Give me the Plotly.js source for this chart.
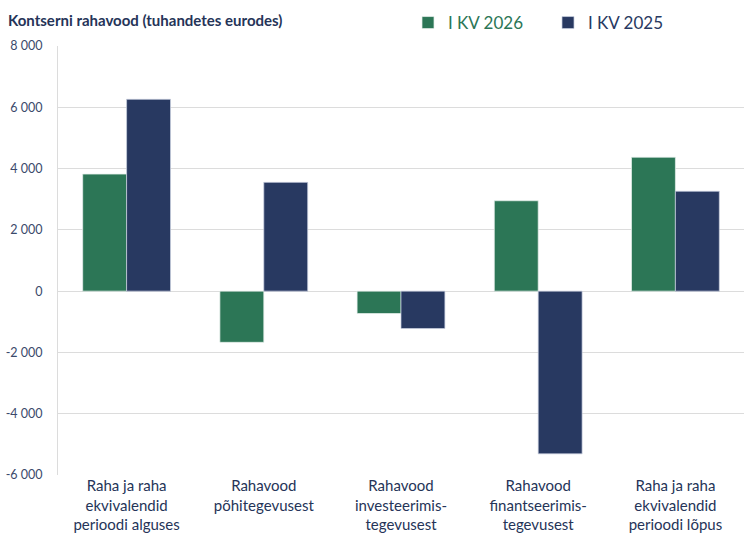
<!DOCTYPE html>
<html>
<head>
<meta charset="utf-8">
<script src="https://cdn.plot.ly/plotly-3.0.1.min.js"></script>
<style>html,body{margin:0;padding:0;background:#fff;}#chart{width:744px;height:533px;}</style>
</head>
<body>
<div id="chart"></div>
<script>
const categories = [
  "Raha ja raha<br>ekvivalendid<br>perioodi alguses",
  "Rahavood<br>põhitegevusest",
  "Rahavood<br>investeerimis-<br>tegevusest",
  "Rahavood<br>finantseerimis-<br>tegevusest",
  "Raha ja raha<br>ekvivalendid<br>perioodi lõpus"
];
const series2026 = [3820, -1670, -730, 2950, 4370];
const series2025 = [6260, 3550, -1220, -5310, 3260];
const yTickVals = [-6000, -4000, -2000, 0, 2000, 4000, 6000, 8000];
const yTickText = ["-6 000", "-4 000", "-2 000", "0", "2 000", "4 000", "6 000", "8 000"];

const green = "#2c7656";
const navy = "#283961";
const FONT = "Lato, 'Open Sans', sans-serif";

const traces = [
  {type: "bar", x: categories, y: series2026,
   name: '<span style="color:' + green + '">I KV 2026</span>',
   marker: {color: green, line: {color: "rgba(230,240,235,0.9)", width: 0.8}}},
  {type: "bar", x: categories, y: series2025,
   name: '<span style="color:' + navy + '">I KV 2025</span>',
   marker: {color: navy, line: {color: "rgba(200,208,225,0.9)", width: 0.8}}}
];

const layout = {
  width: 744, height: 533,
  margin: {l: 58, r: 0, t: 46, b: 58},
  paper_bgcolor: "#fff", plot_bgcolor: "#fff",
  font: {family: FONT, color: "#2f3f66"},
  title: {text: "<b>Kontserni rahavood (tuhandetes eurodes)</b>",
          x: 8/744, xanchor: "left", xref: "container",
          y: 1 - 21/533, yanchor: "middle", yref: "container",
          font: {family: FONT, size: 15, color: "#253458"}},
  barmode: "group", bargap: 0.36, bargroupgap: 0,
  showlegend: true,
  legend: {orientation: "h", xref: "container", yref: "container",
           x: 408/744, xanchor: "left", y: 1 - 23/533, yanchor: "middle",
           font: {family: FONT, size: 17}, itemwidth: 30,
           entrywidth: 95, entrywidthmode: "pixels", traceorder: "normal",
           bgcolor: "rgba(0,0,0,0)"},
  xaxis: {type: "category", showgrid: false, zeroline: false, showline: false,
          ticks: "", tickfont: {family: FONT, size: 15, color: "#253458"},
          automargin: false},
  yaxis: {range: [-6000, 8000], tickvals: yTickVals, ticktext: yTickText,
          showgrid: true, gridcolor: "#dcdcdc", gridwidth: 1,
          zeroline: true, zerolinecolor: "#dcdcdc", zerolinewidth: 1,
          showline: true, linecolor: "#dcdcdc", linewidth: 1,
          ticks: "", ticklabelstandoff: 12,
          tickfont: {family: FONT, size: 12.5, color: "#3b4a6b"},
          automargin: false}
};

Plotly.newPlot("chart", traces, layout, {displayModeBar: false, staticPlot: true});
</script>
</body>
</html>
